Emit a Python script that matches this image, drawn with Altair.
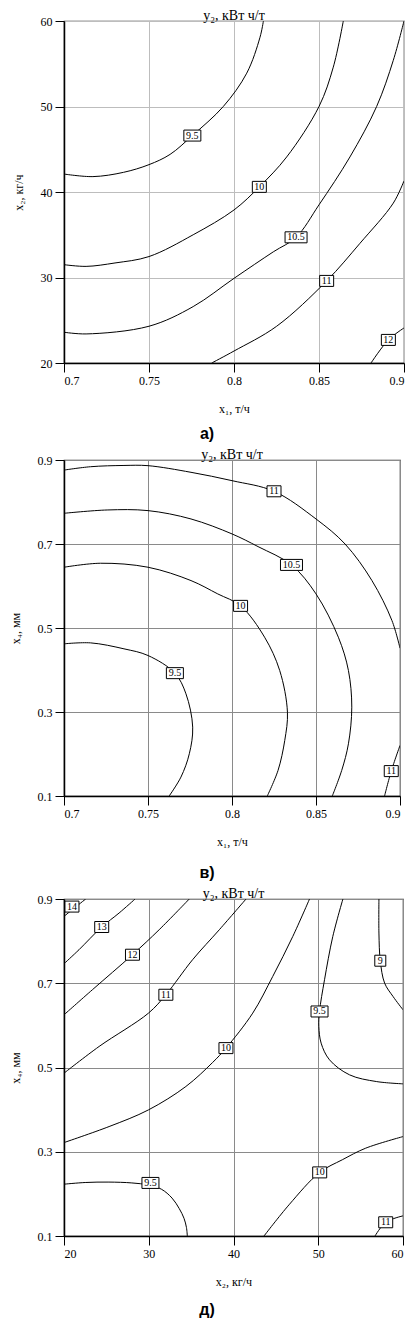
import altair as alt
import pandas as pd

# ---------------- Panel а) : x1 (т/ч) vs x2 (кг/ч) ----------------
a_c95 = [(0.700, 42.1), (0.717, 41.8), (0.735, 42.3), (0.750, 43.2), (0.7624, 44.4),
         (0.7755, 46.6), (0.7937, 50.0), (0.8075, 53.9), (0.8153, 58.1), (0.8173, 60.0)]
a_c10 = [(0.700, 31.5), (0.713, 31.3), (0.730, 31.7), (0.750, 32.45), (0.776, 35.0),
         (0.800, 37.9), (0.8149, 40.6), (0.831, 44.1), (0.850, 50.0), (0.8584, 54.6), (0.8643, 60.0)]
a_c105 = [(0.700, 23.6), (0.713, 23.4), (0.750, 24.3), (0.776, 26.6), (0.800, 29.9),
          (0.8231, 33.0), (0.8365, 34.7), (0.850, 38.5), (0.8682, 44.1), (0.8839, 50.0),
          (0.8937, 55.4), (0.900, 60.0)]
a_c11 = [(0.7869, 20.0), (0.800, 21.4), (0.8251, 24.3), (0.8545, 29.6), (0.8741, 34.0),
         (0.8937, 38.7), (0.900, 41.3)]
a_c12 = [(0.8806, 20.0), (0.8908, 22.7), (0.900, 24.1)]
a_labels = [(0.7755, 46.6, "9.5"), (0.8149, 40.6, "10"), (0.8365, 34.7, "10.5"),
            (0.8545, 29.6, "11"), (0.8908, 22.7, "12")]

# ---------------- Panel в) : x1 (т/ч) vs x4 (мм) ----------------
b_c11 = [(0.700, 0.876), (0.7158, 0.884), (0.7357, 0.887), (0.750, 0.8865), (0.7756, 0.8707),
         (0.800, 0.8508), (0.825, 0.8255), (0.850, 0.7596), (0.8673, 0.700), (0.8833, 0.6129),
         (0.8952, 0.5178), (0.900, 0.4520)]
b_c105 = [(0.700, 0.7731), (0.7257, 0.781), (0.750, 0.7795), (0.7756, 0.7596), (0.800, 0.724),
          (0.8155, 0.6938), (0.8354, 0.6502), (0.850, 0.5812), (0.8633, 0.4781), (0.8693, 0.3988),
          (0.8713, 0.3116), (0.8693, 0.2243), (0.8653, 0.1609), (0.8597, 0.100)]
b_c10 = [(0.700, 0.6447), (0.7217, 0.6542), (0.750, 0.6447), (0.7756, 0.6129), (0.7915, 0.5812),
         (0.8051, 0.5527), (0.8194, 0.4781), (0.8284, 0.3988), (0.833, 0.2997), (0.8314, 0.2323),
         (0.8274, 0.1609), (0.821, 0.100)]
b_c95 = [(0.700, 0.4623), (0.7158, 0.4646), (0.7357, 0.4504), (0.750, 0.4345), (0.766, 0.3925),
         (0.7726, 0.3433), (0.7766, 0.264), (0.7746, 0.2006), (0.7696, 0.145), (0.7626, 0.100)]
b_c11b = [(0.8908, 0.100), (0.8948, 0.1593), (0.900, 0.2204)]
b_labels = [(0.825, 0.8255, "11"), (0.8354, 0.6502, "10.5"), (0.8051, 0.5527, "10"),
            (0.766, 0.3925, "9.5"), (0.8948, 0.1593, "11")]

# ---------------- Panel д) : x2 (кг/ч) vs x4 (мм) ----------------
d_c14 = [(20.0, 0.8588), (21.0, 0.875), (22.56, 0.900)]
d_c13 = [(20.0, 0.7463), (21.77, 0.7796), (24.45, 0.8335), (26.5, 0.8667), (28.39, 0.900)]
d_c12 = [(20.0, 0.6251), (23.35, 0.6846), (28.08, 0.7677), (31.23, 0.8271), (34.78, 0.900)]
d_c11 = [(20.0, 0.4865), (24.14, 0.5499), (29.97, 0.6291), (32.02, 0.6727), (35.17, 0.7558),
         (38.33, 0.8271), (41.48, 0.900)]
d_c10 = [(20.0, 0.3218), (25.32, 0.3598), (29.97, 0.3994), (34.38, 0.4549), (37.54, 0.512),
         (39.11, 0.546), (42.27, 0.6291), (44.63, 0.7162), (47.0, 0.8113), (48.97, 0.900)]
d_c95 = [(52.91, 0.900), (51.72, 0.8113), (50.74, 0.7083), (50.15, 0.6331), (50.07, 0.5974),
         (50.34, 0.5578), (51.33, 0.5182), (53.69, 0.4826), (56.85, 0.4667), (60.0, 0.4612)]
d_c9 = [(57.16, 0.900), (57.16, 0.8192), (57.32, 0.7535), (57.83, 0.7004), (58.82, 0.6687),
        (60.0, 0.637)]
d_c95b = [(20.0, 0.223), (22.5, 0.227), (25.3, 0.228), (28.0, 0.226), (30.0, 0.221),
          (31.5, 0.211), (32.75, 0.190), (33.6, 0.165), (34.16, 0.142), (34.45, 0.120),
          (34.55, 0.100)]
d_c10b = [(43.6, 0.100), (46.55, 0.174), (50.17, 0.251), (52.84, 0.281), (55.6, 0.3085),
          (60.0, 0.336)]
d_c11b = [(56.7, 0.100), (57.96, 0.1326), (60.0, 0.1478)]
d_labels = [(20.94, 0.882, "14"), (24.45, 0.8335, "13"), (28.08, 0.7677, "12"),
            (32.02, 0.6727, "11"), (39.11, 0.546, "10"), (50.15, 0.633, "9.5"),
            (57.32, 0.7535, "9"), (30.2, 0.226, "9.5"), (50.17, 0.251, "10"),
            (57.96, 0.1326, "11")]

TITLE = "y₂, кВт ч/т"
SERIF = "Liberation Serif"
BOX_W = {1: 11, 2: 14, 3: 17, 4: 22}


def panel(contours, labels, xdom, ydom, xticks, yticks, xtitle, ytitle, caption, w, h,
          cap_dy, grid):
    rows = []
    for cid, pts in enumerate(contours):
        for i, (x, y) in enumerate(pts):
            rows.append({"x": x, "y": y, "cid": cid, "ord": i})
    ldf = pd.DataFrame(rows)
    lab = pd.DataFrame([{"x": x, "y": y, "t": t, "n": len(t)} for x, y, t in labels])

    X = alt.X("x:Q", scale=alt.Scale(domain=xdom, nice=False, zero=False),
              axis=alt.Axis(values=xticks, format="~g", title=xtitle, gridColor=grid))
    Y = alt.Y("y:Q", scale=alt.Scale(domain=ydom, nice=False, zero=False),
              axis=alt.Axis(values=yticks, format="~g", title=ytitle, gridColor=grid))

    lines = alt.Chart(ldf).mark_line(color="black", strokeWidth=1,
                                     interpolate="catmull-rom", clip=True).encode(
        x=X, y=Y, detail="cid:N", order="ord:Q")
    layers = [lines]
    for n in sorted(set(lab["n"])):
        layers.append(
            alt.Chart(lab).transform_filter(alt.datum.n == int(n)).mark_rect(
                width=BOX_W[int(n)], height=11, fill="white", stroke="black",
                strokeWidth=1).encode(x="x:Q", y="y:Q"))
    layers.append(alt.Chart(lab).mark_text(font=SERIF, fontSize=10, color="black",
                                           align="center", baseline="middle").encode(
        x="x:Q", y="y:Q", text="t:N"))
    ttl = alt.Chart(pd.DataFrame({"t": [TITLE]})).mark_text(
        font=SERIF, fontSize=14, color="black", align="center", baseline="middle").encode(
        x=alt.value(w / 2), y=alt.value(-5), text="t:N")
    cap = alt.Chart(pd.DataFrame({"c": [caption]})).mark_text(
        font="Liberation Sans", fontWeight="bold", fontSize=16, color="black",
        align="center", baseline="middle").encode(
        x=alt.value(143), y=alt.value(h + cap_dy), text="c:N")
    layers += [ttl, cap]
    return alt.layer(*layers).properties(width=w, height=h)


pa = panel([a_c95, a_c10, a_c105, a_c11, a_c12], a_labels, [0.7, 0.9], [20, 60],
           [0.7, 0.75, 0.8, 0.85, 0.9], [20, 30, 40, 50, 60],
           "x₁, т/ч", "x₂, кг/ч", "а)", 340, 342, 71, "#bdbdbd")
pb = panel([b_c11, b_c105, b_c10, b_c95, b_c11b], b_labels, [0.7, 0.9], [0.1, 0.9],
           [0.7, 0.75, 0.8, 0.85, 0.9], [0.1, 0.3, 0.5, 0.7, 0.9],
           "x₁, т/ч", "x₄, мм", "в)", 336, 336, 77, "#8a8a8a")
pd_ = panel([d_c14, d_c13, d_c12, d_c11, d_c10, d_c95, d_c9, d_c95b, d_c10b, d_c11b],
            d_labels, [20, 60], [0.1, 0.9], [20, 30, 40, 50, 60], [0.1, 0.3, 0.5, 0.7, 0.9],
            "x₂, кг/ч", "x₄, мм", "д)", 339, 337, 74, "#8a8a8a")

chart = alt.vconcat(pa, pb, pd_, spacing=4).properties(
    padding={"left": 0, "top": 0, "right": 0, "bottom": 0}
).configure_axis(
    labelFont=SERIF, labelFontSize=12, labelColor="black", labelPadding=3,
    titleFont=SERIF, titleFontSize=12, titleFontWeight="normal", titleColor="black",
    domainColor="black", domainWidth=1.5, tickColor="black", tickSize=9, gridWidth=1
).configure_axisX(titlePadding=17).configure_axisY(titlePadding=15).configure_view(
    stroke="#333", strokeWidth=1.2)

chart.save("out.html", embed_options={"renderer": "svg", "actions": False})
